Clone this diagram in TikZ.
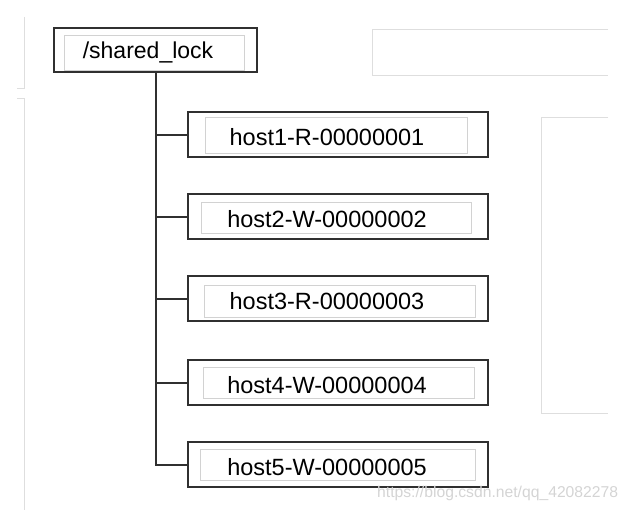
\documentclass[tikz,border=0pt]{standalone}
\usepackage{fontspec}
\setmainfont{Liberation Sans}
\usetikzlibrary{positioning}

\definecolor{boxline}{HTML}{303030}
\definecolor{paleline}{HTML}{D2D2D2}
\definecolor{faintline}{HTML}{DEDEDE}

\begin{document}
\begin{tikzpicture}[x=1pt,y=-1pt,
    lockbox/.style={draw=boxline, line width=2pt, inner sep=0pt},
    innerbox/.style={draw=paleline, line width=0.9pt},
    trunk/.style={draw=boxline, line width=2pt},
    keytext/.style={anchor=base, inner sep=0pt, font=\fontsize{23.5}{28}\selectfont}]
            \useasboundingbox (0,0) rectangle (629,511);

            % faint frames behind the tree
            \draw[faintline, line width=1pt] (24,17) -- (24,88) -- (17,88);
            \draw[faintline, line width=1pt] (17,98) -- (24,98) -- (24,510);
            \draw[faintline, line width=1pt] (608,30) -- (372,30) -- (372,76) -- (608,76);
            \draw[faintline, line width=1pt] (608,117) -- (541,117) -- (541,413) -- (608,413);

            % root node
            \node[lockbox, minimum width=203pt, minimum height=44pt] (lock) at (155.5,50) {};
            \draw[innerbox] (64,35) rectangle (244,70);
            \node[keytext, font=\fontsize{23}{28}\selectfont] (locklabel) at (148,59) {/shared\_lock};

            % sequential child nodes
            \foreach \i/\y/\name/\l/\t/\r/\b in {
                1/134.5/host1-R-00000001/205/117/467/153,
                2/216.5/host2-W-00000002/201/202/471/233,
                3/298.5/host3-R-00000003/204/285/475/317,
                4/382.5/host4-W-00000004/203/367/474/398,
                5/464.5/host5-W-00000005/200/449/475/480} {
                \node[lockbox, minimum width=300pt, minimum height=44.5pt] (host\i) at (338,\y) {};
                \draw[innerbox] (\l,\t) rectangle (\r,\b);
                \node[keytext] (host\i label) at (327,\y+11) {\name};
            }

            % tree lines
            \draw[trunk] (lock.south) |- (host5.west);
            \foreach \i in {1,...,4}
                \draw[trunk] (lock.south |- host\i.west) -- (host\i.west);

            % watermark
            \node[anchor=base west, inner sep=0pt, text=black!17,
                  font=\fontsize{15.7}{18}\selectfont] (mark) at (377,497) {https://blog.csdn.net/qq\_42082278};
        \end{tikzpicture}
\end{document}
